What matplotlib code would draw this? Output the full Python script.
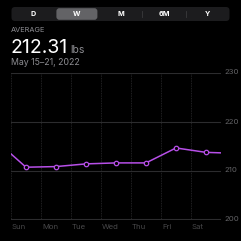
import matplotlib
matplotlib.use("Agg")
import matplotlib.pyplot as plt
from matplotlib.patches import FancyBboxPatch

plt.rcParams["font.family"] = ["Inter", "DejaVu Sans"]

days = ["Sun", "Mon", "Tue", "Wed", "Thu", "Fri", "Sat"]
weights = [210.67, 210.8, 211.35, 211.55, 211.55, 214.6, 213.7]
prev_weight = 216.1   # previous week's Saturday (line enters from left edge)
next_weight = 213.5   # next week's Sunday (line exits at right edge)
y_ticks = [200, 210, 220, 230]
tabs = ["D", "W", "M", "6M", "Y"]
selected_tab = "W"
average_text = "212.31"
unit_text = "lbs"
date_text = "May 15\u201321, 2022"

W = H = 241
dpi = 100
fig = plt.figure(figsize=(W / dpi, H / dpi), dpi=dpi, facecolor="black")

def fx(px):
    return px / W

def fy(py):
    return 1 - py / H

# Segmented control
ov = fig.add_axes([0, 0, 1, 1], facecolor="none")
ov.set_xlim(0, W)
ov.set_ylim(H, 0)
ov.axis("off")
ov.add_patch(FancyBboxPatch((11.5, 7), 218, 14, boxstyle="round,pad=0,rounding_size=3.5",
                            fc="#1c1c1e", ec="none"))
tab_w = 218 / len(tabs)
for i, t in enumerate(tabs):
    cx = 11.5 + tab_w * (i + 0.5)
    if t == selected_tab:
        ov.add_patch(FancyBboxPatch((11.5 + tab_w * i + 1.3, 8.2), tab_w - 2.6, 11.6,
                                    boxstyle="round,pad=0,rounding_size=3",
                                    fc="#636366", ec="none"))
    ov.text(cx, 14.5, t, color="white", fontsize=5.2, fontweight="bold",
            ha="center", va="center")
for i in (2, 3):
    x = 11.5 + tab_w * (i + 1)
    ov.plot([x, x], [11, 17], color="#3a3a3c", lw=0.6)

ov.text(11, 30.5, "AVERAGE", color="#8e8e93", fontsize=5.3, ha="left", va="center")
ov.text(10.5, 53, average_text, color="white", fontsize=14.0, ha="left", va="baseline")
ov.text(70.5, 53, unit_text, color="#8e8e93", fontsize=7.5, ha="left", va="baseline")
ov.text(11, 62.5, date_text, color="#8e8e93", fontsize=6.3, ha="left", va="center")

# Chart
ax = fig.add_axes([fx(11), fy(219.5), fx(221) - fx(11), fy(72.5) - fy(219.5)],
                  facecolor="black")
ax.set_xlim(0, 7)
ax.set_ylim(200, 230)
for s in ax.spines.values():
    s.set_visible(False)
ax.set_xticks([])
ax.set_yticks([])

for yv in y_ticks:
    ax.axhline(yv, color="#2c2c2e", lw=0.8, zorder=1)
    ax.text(7.1, yv, str(yv), color="#636366", fontsize=5.6, ha="left", va="center",
            clip_on=False)
for xv in range(0, 8):
    ax.axvline(xv, color="#2c2c2e", lw=0.6, ls=(0, (1, 1)), zorder=1)

xs = [i + 0.5 for i in range(len(days))]
ax.plot([-0.5] + xs + [7.5], [prev_weight] + weights + [next_weight],
        color="#b74fe8", lw=1.1, zorder=3, clip_on=True)
ax.plot(xs, weights, ls="none", marker="o", ms=3.2, mfc="black", mec="#b74fe8",
        mew=0.9, zorder=4)

for i, d in enumerate(days):
    ax.text(i + 0.03, 198.5, d, color="#48484a", fontsize=5.6, ha="left", va="center",
            clip_on=False)

fig.savefig("out.png", dpi=dpi, facecolor="black")
